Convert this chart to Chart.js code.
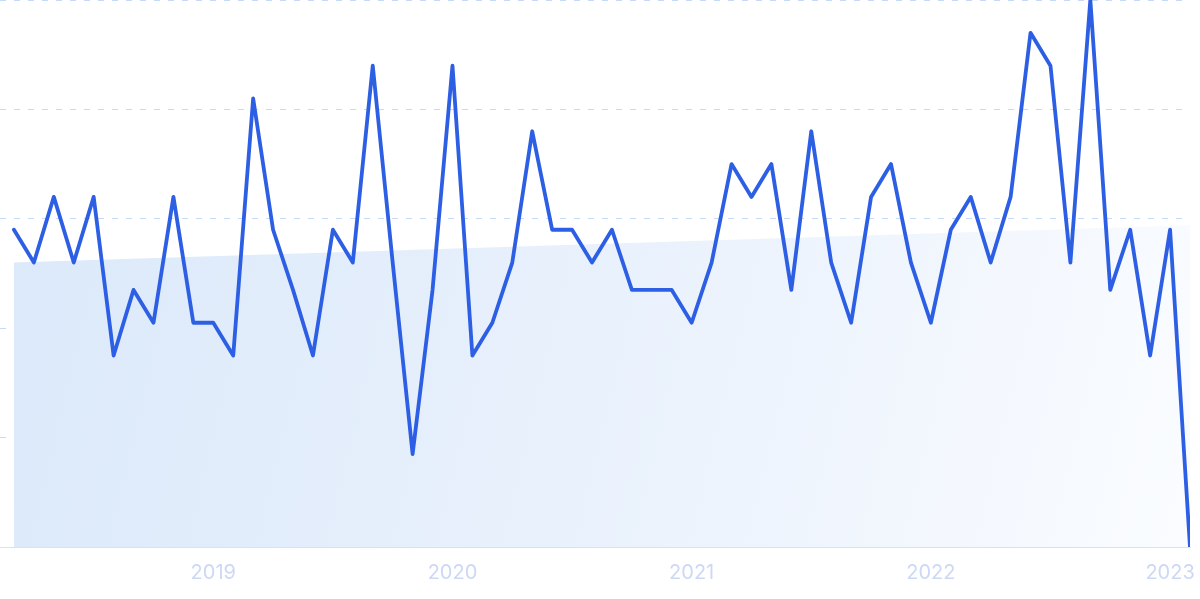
<!DOCTYPE html>
<html>
<head>
<meta charset="utf-8">
<script src="https://cdn.jsdelivr.net/npm/chart.js"></script>
<style>
  html, body { margin: 0; padding: 0; background: #fff; }
  #wrap { width: 1200px; height: 599px; }
</style>
</head>
<body>
<div id="wrap"><canvas id="myChart"></canvas></div>
<script>
var months = [
  "2018-03", "2018-04", "2018-05", "2018-06", "2018-07", "2018-08", "2018-09", "2018-10", "2018-11", "2018-12",
  "2019-01", "2019-02", "2019-03", "2019-04", "2019-05", "2019-06", "2019-07", "2019-08", "2019-09", "2019-10", "2019-11", "2019-12",
  "2020-01", "2020-02", "2020-03", "2020-04", "2020-05", "2020-06", "2020-07", "2020-08", "2020-09", "2020-10", "2020-11", "2020-12",
  "2021-01", "2021-02", "2021-03", "2021-04", "2021-05", "2021-06", "2021-07", "2021-08", "2021-09", "2021-10", "2021-11", "2021-12",
  "2022-01", "2022-02", "2022-03", "2022-04", "2022-05", "2022-06", "2022-07", "2022-08", "2022-09", "2022-10", "2022-11", "2022-12",
  "2023-01", "2023-02"
];
var values = [
  58, 52, 64, 52, 64, 35, 47, 41, 64, 41,
  41, 35, 82, 58, 47, 35, 58, 52, 88, 52, 17, 47,
  88, 35, 41, 52, 76, 58, 58, 52, 58, 47, 47, 47,
  41, 52, 70, 64, 70, 47, 76, 52, 41, 64, 70, 52,
  41, 58, 64, 52, 64, 94, 88, 52, 100, 47, 58, 35,
  58, 0
];
var tickLabels = ["2019", "2020", "2021", "2022", "2023"];
// straight trend line drawn as the shaded area
var trendStart = 52;
var trendEnd = 58.8;

var lineData = values.map(function (v, i) { return { x: i, y: v }; });
var trendData = [{ x: 0, y: trendStart }, { x: months.length - 1, y: trendEnd }];

function trendFill(context) {
  var chart = context.chart;
  var area = chart.chartArea;
  if (!area) return 'rgb(222,235,251)';
  var y0 = chart.scales.y.getPixelForValue(trendStart);
  var g = chart.ctx.createLinearGradient(area.left, y0, area.right, area.bottom);
  g.addColorStop(0, 'rgb(219,233,250)');
  g.addColorStop(0.5, 'rgb(233,241,252)');
  g.addColorStop(1, 'rgb(250,252,255)');
  return g;
}

var ctx = document.getElementById('myChart').getContext('2d');
var chart = new Chart(ctx, {
  type: 'line',
  data: {
    datasets: [{
      data: lineData,
      borderColor: '#2d5fe4',
      borderWidth: 3.8,
      borderJoinStyle: 'round',
      borderCapStyle: 'round',
      pointRadius: 0,
      tension: 0,
      fill: false,
      order: 1
    }, {
      data: trendData,
      borderWidth: 0,
      borderColor: 'rgba(0,0,0,0)',
      backgroundColor: trendFill,
      pointRadius: 0,
      fill: 'origin',
      order: 2
    }]
  },
  options: {
    responsive: true,
    maintainAspectRatio: false,
    animation: false,
    layout: { padding: { left: 0, right: 10, top: 0, bottom: 0 } },
    plugins: { legend: { display: false }, tooltip: { enabled: false } },
    scales: {
      x: {
        type: 'linear',
        min: -0.7,
        max: 59,
        grid: { display: false, drawTicks: false },
        border: { display: true, color: '#d3e3fb', width: 1 },
        afterBuildTicks: function (scale) {
          scale.ticks = tickLabels.map(function (t) {
            return { value: months.indexOf(t + '-01') };
          });
        },
        afterFit: function (scale) {
          scale.paddingLeft = 0;
          scale.paddingRight = 0;
        },
        ticks: {
          autoSkip: false,
          maxRotation: 0,
          padding: 14,
          color: '#cdd8f5',
          font: { family: 'Inter', size: 20 },
          callback: function (v) { return months[v] ? months[v].slice(0, 4) : ''; }
        }
      },
      y: {
        min: 0,
        max: 100,
        ticks: { display: false, stepSize: 20 },
        grid: { color: '#c8dafa', drawTicks: false, lineWidth: 1 },
        border: { display: false, dash: [6, 8] }
      }
    }
  }
});
</script>
</body>
</html>
